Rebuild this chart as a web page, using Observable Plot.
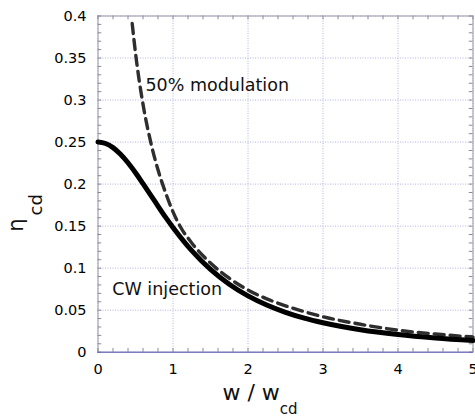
<!DOCTYPE html>
<html>
<head>
<meta charset="utf-8">
<script src="https://cdn.jsdelivr.net/npm/d3@7"></script>
<script src="https://cdn.jsdelivr.net/npm/@observablehq/plot@0.6"></script>
<style>
  html, body { margin: 0; padding: 0; background: #fff; }
</style>
</head>
<body>
<div id="chart"></div>
<script>
// Data
const cwX = [0, 0.1, 0.2, 0.3, 0.4, 0.5, 0.6, 0.75, 0.9, 1.0, 1.25, 1.5, 1.75, 2.0, 2.25, 2.5, 2.75, 3.0, 3.5, 4.0, 4.5, 5.0];
const cwY = [0.25, 0.2483, 0.2434, 0.2355, 0.2254, 0.2135, 0.2005, 0.1806, 0.1607, 0.1485, 0.1209, 0.0985, 0.0809, 0.0670, 0.0561, 0.0474, 0.0405, 0.0350, 0.0267, 0.0210, 0.0169, 0.0138];

const modX = [0.456, 0.5, 0.6, 0.7, 0.8, 0.9, 1.0, 1.1, 1.25, 1.5, 1.75, 2.0, 2.25, 2.5, 2.75, 3.0, 3.5, 4.0, 4.5, 5.0];
const modY = [0.391, 0.356, 0.295, 0.251, 0.217, 0.190, 0.167, 0.149, 0.130, 0.106, 0.088, 0.074, 0.0635, 0.0552, 0.0482, 0.0422, 0.0332, 0.0262, 0.0216, 0.018];

const xTicks = [0, 1, 2, 3, 4, 5];
const yTicks = [0, 0.05, 0.1, 0.15, 0.2, 0.25, 0.3, 0.35, 0.4];
const xMinor = d3.range(0, 26).map(i => i / 5);
const yMinor = d3.range(0, 41).map(i => i / 100);

const annotations = [
  {x: 0.633, y: 0.311, text: "50% modulation"},
  {x: 0.19, y: 0.0675, text: "CW injection"}
];

const cw = cwX.map((x, i) => ({x, y: cwY[i]}));
const mod = modX.map((x, i) => ({x, y: modY[i]}));

const gridColor = "#b4b4e0";
const tickColor = "#8a8a9a";

const svg = Plot.plot({
  width: 475,
  height: 416,
  marginLeft: 97.5,
  marginRight: 2.5,
  marginTop: 15.5,
  marginBottom: 64.3,
  style: {fontFamily: "DejaVu Sans", fontSize: "14.5px", color: "black", background: "white"},
  x: {domain: [0, 5], axis: null},
  y: {domain: [0, 0.4], axis: null},
  marks: [
    Plot.gridX(xTicks, {stroke: gridColor, strokeOpacity: 1, strokeDasharray: "1,1.5"}),
    Plot.gridY(yTicks, {stroke: gridColor, strokeOpacity: 1, strokeDasharray: "1,1.5"}),
    Plot.frame({stroke: "#9a9aa8"}),
    Plot.ruleX(xMinor, {x: d => d, y1: 0, y2: 0.0045, stroke: tickColor}),
    Plot.ruleX(xMinor, {x: d => d, y1: 0.4, y2: 0.3955, stroke: tickColor}),
    Plot.ruleY(yMinor, {y: d => d, x1: 0, x2: 0.05, stroke: tickColor}),
    Plot.ruleY(yMinor, {y: d => d, x1: 5, x2: 4.95, stroke: tickColor}),
    Plot.ruleY([0], {stroke: "#4848c0", strokeDasharray: "1,1", strokeWidth: 1.6}),
    Plot.axisX(xTicks, {tickSize: 0, tickPadding: 11.5, label: null, tickFormat: d => String(d)}),
    Plot.axisY(yTicks, {tickSize: 0, tickPadding: 11.5, label: null, tickFormat: d => String(d)}),
    Plot.line(mod, {x: "x", y: "y", stroke: "#2e2e2e", strokeWidth: 3.4, strokeDasharray: "10,6", curve: "monotone-x"}),
    Plot.line(cw, {x: "x", y: "y", stroke: "black", strokeWidth: 5, curve: "monotone-x"}),
    Plot.text(annotations, {x: "x", y: "y", text: "text", textAnchor: "start", lineAnchor: "bottom", fontSize: 17.5, fill: "#111"})
  ]
});

const s = d3.select(svg);
// x-axis label: w / w_cd
const xl = s.append("text")
  .attr("x", 260).attr("y", 400)
  .attr("font-family", "DejaVu Sans").attr("font-size", 22).attr("fill", "#111");
xl.append("tspan").text("w / w");
xl.append("tspan").attr("dy", 14).attr("font-size", 15).text("cd");

// y-axis label: η_cd (rotated)
const yl = s.append("text")
  .attr("transform", "translate(23,213) rotate(-90)")
  .attr("font-family", "DejaVu Sans").attr("font-size", 21).attr("fill", "#111");
yl.append("tspan").text("η");
yl.append("tspan").attr("dx", 3).attr("dy", 19).attr("font-size", 18).text("cd");

document.getElementById("chart").appendChild(svg);
</script>
</body>
</html>
